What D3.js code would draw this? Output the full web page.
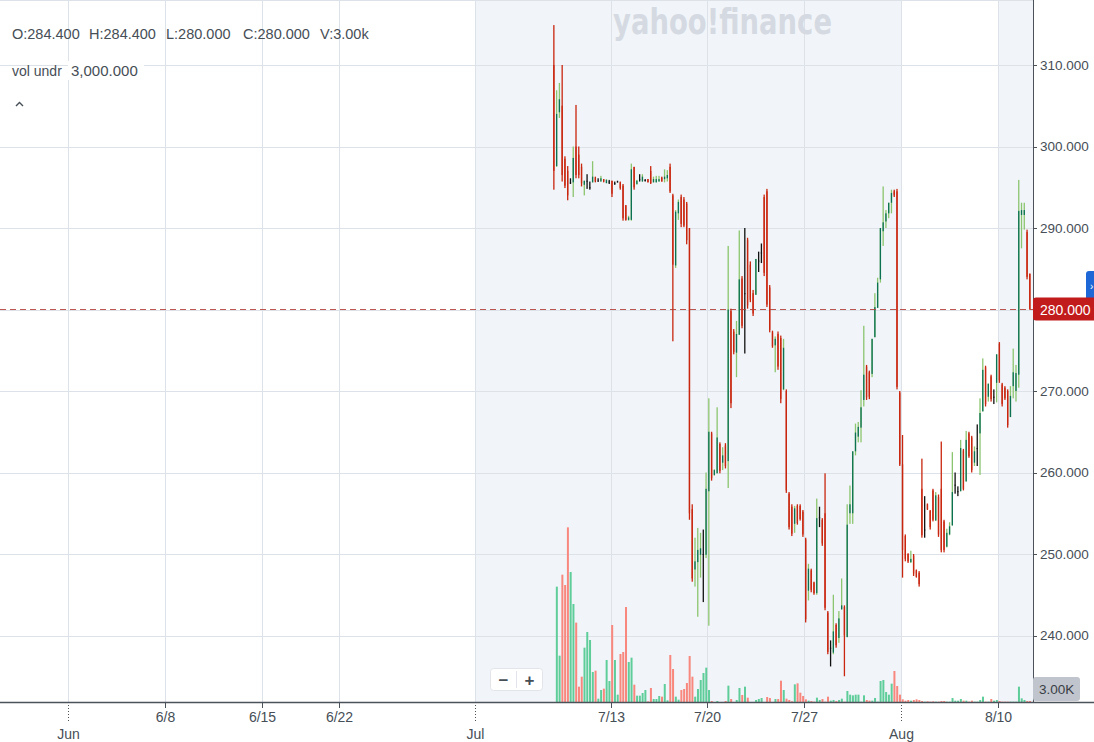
<!DOCTYPE html>
<html>
<head>
<meta charset="utf-8">
<title>candles</title>
<script src="https://cdn.jsdelivr.net/npm/d3@7/dist/d3.min.js"></script>
<style>
  body { margin: 0; background: #fff; }
  svg { display: block; font-family: "Liberation Sans", Arial, sans-serif; }
</style>
</head>
<body>
<svg width="1094" height="742"></svg>
<script>
// x axis: labels and their position in trading days (Jul 1 = 0)
var tickLabels = ["Jun", "6/8", "6/15", "6/22", "Jul", "7/13", "7/20", "7/27", "Aug", "8/10"];
var tickDays   = [-21, -16, -11, -7, 0, 7, 12, 17, 22, 27];
var monthTicks = ["Jun", "Jul", "Aug"];
var priceTicks = [240, 250, 260, 270, 280, 290, 300, 310];

// shaded periods (trading days)
var bandStart = [0, 27];
var bandEnd   = [22, 29];

// hourly bars, 7 per day, starting on trading day 4 (7/8)
var firstDay = 4, barsPerDay = 7;

var open = [310.0,297.6,304.2,305.0,298.5,297.0,295.6,295.6,300.0,299.0,297.5,295.3,295.8,295.0,295.6,296.2,295.8,295.7,296.0,295.5,
  295.7,295.8,295.5,295.7,295.6,295.2,292.8,291.0,291.0,297.5,295.4,296.0,295.7,295.9,296.0,297.0,295.6,295.6,295.7,296.2,
  296.0,296.1,297.5,294.0,285.4,291.8,293.8,293.5,293.0,290.0,255.5,248.1,249.0,249.9,250.0,249.9,257.7,264.8,259.7,259.9,
  263.5,261.2,263.3,261.4,279.8,277.3,274.7,276.9,283.8,282.0,288.5,285.5,282.0,281.8,286.0,287.0,293.8,294.5,282.7,277.2,
  275.6,277.0,276.5,270.2,270.0,257.4,255.8,253.7,255.9,255.9,255.2,251.8,245.5,248.0,246.5,245.2,254.5,254.2,255.0,242.8,
  238.5,237.9,241.3,239.7,243.2,243.5,239.8,255.0,255.0,262.6,264.4,265.5,268.9,273.0,272.3,272.1,276.6,280.2,283.7,289.6,
  290.8,291.8,293.1,294.5,294.5,269.8,261.0,252.2,250.0,249.0,249.8,248.0,247.7,258.0,253.0,256.1,255.3,257.8,254.1,257.0,
  258.0,254.0,250.9,252.4,253.5,258.5,257.7,257.7,262.7,258.9,264.8,264.3,261.2,263.0,264.8,267.5,272.9,269.3,271.8,269.3,
  271.0,275.8,270.8,270.4,270.0,266.8,270.6,270.0,272.0,291.6,291.6,289.5,284.4];
var high = [314.9,306.9,307.8,310.0,298.8,297.6,296.1,300.0,305.1,300.0,297.9,295.8,296.6,295.7,298.2,296.3,296.1,296.4,296.0,296.0,
  295.9,295.8,295.7,295.8,295.7,295.4,292.8,291.5,297.9,297.5,295.9,296.6,296.6,296.0,296.0,297.6,296.3,296.4,296.4,296.3,
  297.2,297.1,297.9,294.2,292.2,293.5,294.1,293.8,293.2,290.0,256.1,252.0,253.2,252.6,253.0,260.0,269.1,265.0,260.4,268.0,
  263.7,263.1,263.6,287.8,280.1,277.6,278.6,289.7,284.1,290.0,288.8,285.9,282.4,286.2,287.1,288.1,294.1,294.8,283.0,277.4,
  276.7,277.3,276.8,276.4,270.2,257.6,256.1,255.9,256.1,256.1,255.4,252.0,248.8,248.2,246.6,256.8,255.8,254.4,259.9,243.0,
  239.4,245.0,241.5,243.0,247.0,243.7,256.1,258.4,262.6,266.0,266.2,270.1,278.0,273.2,272.5,276.4,282.0,283.9,290.0,295.1,
  292.2,293.1,294.7,294.7,294.8,270.0,264.6,252.4,250.1,250.4,250.0,248.1,247.9,261.7,257.1,256.2,255.4,258.0,257.6,257.3,
  263.8,254.2,253.1,253.9,262.5,260.0,258.3,264.0,262.9,265.1,265.0,264.5,263.2,265.9,269.1,274.0,273.1,270.9,272.0,270.2,
  274.5,276.0,271.0,270.6,270.2,270.6,275.2,273.2,295.9,293.1,293.1,289.8,284.4];
var low = [294.7,297.5,303.5,295.7,294.9,293.4,295.4,293.8,296.1,296.1,295.1,294.0,294.8,294.7,295.6,295.6,295.7,295.7,295.6,295.5,
  295.4,293.8,295.3,295.6,294.7,290.9,290.9,290.9,290.9,294.7,295.3,295.7,295.7,295.7,295.6,295.4,295.6,295.6,295.7,295.7,
  295.6,295.7,294.3,276.1,285.1,291.0,290.1,290.1,288.0,254.2,246.6,246.0,242.3,247.1,244.1,249.5,241.2,259.0,259.6,259.9,
  259.9,260.3,260.5,258.1,267.9,274.5,271.7,276.9,277.7,274.6,280.1,280.9,279.2,281.8,284.6,285.7,284.1,280.3,277.2,275.3,
  272.3,272.6,268.5,270.1,257.5,253.0,252.2,252.6,253.6,254.1,252.1,241.6,244.3,245.3,245.0,245.0,253.3,251.0,243.1,237.7,
  236.2,237.7,238.5,239.1,243.2,235.0,239.8,253.7,253.7,262.1,263.7,263.7,268.1,268.9,269.0,271.7,276.6,280.2,283.3,287.8,
  290.0,291.2,291.8,293.8,270.2,260.8,247.1,249.1,248.9,248.9,247.3,247.1,246.0,252.0,252.0,255.4,253.0,254.0,254.1,252.1,
  250.2,250.2,250.8,252.3,253.5,257.4,257.1,257.7,257.8,258.9,261.8,260.0,260.8,260.8,259.7,267.5,268.1,268.7,268.7,268.4,
  268.6,271.0,268.1,268.9,265.5,266.8,269.1,268.7,270.4,287.5,289.8,283.7,280.0];
var close = [297.0,304.0,305.8,296.5,295.2,294.0,295.6,298.6,296.5,296.5,295.5,295.8,295.8,295.0,296.3,295.7,295.8,296.1,295.7,295.9,
  295.7,294.2,295.5,295.7,294.9,291.2,291.0,291.3,297.2,295.0,295.8,296.0,296.3,295.9,295.6,295.5,296.0,296.0,296.0,295.7,
  296.3,296.5,294.5,285.5,292.0,293.2,290.5,290.3,288.5,255.0,247.0,249.1,250.5,250.7,250.0,258.0,265.0,259.3,260.3,264.3,
  260.2,262.1,260.8,280.0,268.5,274.8,277.0,283.7,278.0,282.0,280.5,281.2,279.5,286.2,286.0,287.0,284.5,280.6,277.5,275.5,
  276.4,273.0,269.0,275.3,257.8,253.3,252.5,255.6,253.8,254.3,252.4,242.0,248.2,245.6,245.2,254.4,254.5,251.3,243.4,238.0,
  238.5,240.5,238.8,242.1,243.7,240.0,253.6,256.1,262.6,264.9,265.6,268.0,272.0,269.2,269.3,276.4,280.3,283.3,290.0,290.7,
  291.8,293.1,294.3,294.0,270.5,261.0,250.5,249.4,249.1,249.4,247.6,247.2,246.3,252.3,253.0,255.5,253.3,254.2,257.2,252.4,
  250.5,250.5,252.6,253.4,257.6,258.5,257.7,263.0,258.0,264.0,262.0,260.3,262.6,263.0,267.3,272.6,268.4,270.9,269.0,269.3,
  274.5,271.3,268.4,269.1,265.8,269.4,272.3,272.2,292.1,292.2,292.2,284.0,280.0];
// volume, thousands
var volume = [0,346,139,382,351,524,390,294,238,46,76,163,210,186,90,94,10,36,40,126,
  63,231,126,22,144,150,285,120,133,52,19,19,27,36,2,42,9,9,18,16,
  54,5,141,99,16,7,36,39,57,138,76,16,39,66,87,103,36,3,0,3,
  0,0,3,49,9,0,6,42,21,46,13,0,0,6,9,12,0,15,12,0,
  9,9,64,36,10,6,2,53,56,28,18,8,4,3,1,13,6,9,1,16,
  4,6,3,6,10,1,33,22,20,22,22,1,20,6,4,4,12,1,63,66,
  30,22,55,93,48,22,8,4,6,4,6,8,6,3,1,2,1,2,1,1,
  3,3,1,1,12,4,4,9,4,4,1,4,1,1,6,16,1,1,9,4,
  6,3,1,1,1,1,1,1,46,11,6,3,3];
var volLabel = "vol undr", volUnderlay = 3000;

var svg = d3.select("svg");
var W = +svg.attr("width"), H = +svg.attr("height");
var axisX = 1033, baseY = 702;
var ink = "#464e56", gridC = "#dde1e8";

var x = d3.scaleLinear().domain([0, 27]).range([475, 998]);
var y = d3.scaleLinear().domain([240, 310]).range([635.5, 65]);
var yVol = d3.scaleLinear().domain([0, 600]).range([baseY, baseY - 200]);
var fmt = d3.format(".3f");

function barX(i) { return x(firstDay + (i + 0.5) / barsPerDay); }

var bars = open.map(function(o, i) {
  return {i: i, o: o, h: high[i], l: low[i], c: close[i], v: volume[i]};
});

// shaded periods
svg.selectAll(".band").data(bandStart).enter().append("rect")
  .attr("x", function(d) { return x(d); })
  .attr("y", 0)
  .attr("width", function(d, i) { return Math.min(x(bandEnd[i]), axisX) - x(d); })
  .attr("height", baseY)
  .attr("fill", "#f1f5f9");

// grid
svg.append("line").attr("x1", 0).attr("x2", axisX).attr("y1", 0.5).attr("y2", 0.5)
  .attr("stroke", gridC);
svg.selectAll(".hg").data(priceTicks).enter().append("line")
  .attr("x1", 0).attr("x2", axisX)
  .attr("y1", function(d) { return Math.round(y(d)) + 0.5; })
  .attr("y2", function(d) { return Math.round(y(d)) + 0.5; })
  .attr("stroke", gridC);
svg.selectAll(".vg").data(tickDays).enter().append("line")
  .attr("x1", function(d) { return Math.round(x(d)) + 0.5; })
  .attr("x2", function(d) { return Math.round(x(d)) + 0.5; })
  .attr("y1", 0).attr("y2", baseY)
  .attr("stroke", gridC);

// watermark
svg.append("text").attr("x", 613).attr("y", 34)
  .attr("font-size", 35).attr("font-weight", 900)
  .attr("font-family", "'DejaVu Sans', sans-serif")
  .attr("textLength", 219).attr("lengthAdjust", "spacingAndGlyphs")
  .attr("fill", "#d5dae2")
  .text("yahoo!finance");

// volume
svg.selectAll(".vol").data(bars).enter().append("rect")
  .attr("x", function(d) { return barX(d.i) - 0.8; })
  .attr("y", function(d) { return yVol(d.v); })
  .attr("width", 2)
  .attr("height", function(d) { return baseY - yVol(d.v); })
  .attr("fill", function(d) { return d.c < d.o ? "#f8877e" : "#5fcd9a"; });

// candles
function wickColor(d) { return d.c > d.o ? "#8cc56f" : d.c < d.o ? "#c9260f" : "#111"; }
function bodyColor(d) { return d.c > d.o ? "#0b7152" : d.c < d.o ? "#c9260f" : "#111"; }

var g = svg.selectAll(".candle").data(bars).enter().append("g");
g.append("rect")
  .attr("x", function(d) { return barX(d.i) - 0.65; })
  .attr("y", function(d) { return y(d.h); })
  .attr("width", 1.3)
  .attr("height", function(d) { return Math.max(1, y(d.l) - y(d.h)); })
  .attr("fill", wickColor);
g.append("rect")
  .attr("x", function(d) { return barX(d.i) - 0.65; })
  .attr("y", function(d) { return y(Math.max(d.o, d.c)); })
  .attr("width", 1.3)
  .attr("height", function(d) { return Math.max(1, Math.abs(y(d.o) - y(d.c))); })
  .attr("fill", bodyColor);

// last price line
var last = bars[bars.length - 1];
svg.append("line").attr("x1", 0).attr("x2", axisX)
  .attr("y1", y(last.c)).attr("y2", y(last.c))
  .attr("stroke", "#b03a32").attr("stroke-opacity", 0.85)
  .attr("stroke-dasharray", "6,4");

// right axis
svg.append("line").attr("x1", axisX + 0.5).attr("x2", axisX + 0.5)
  .attr("y1", 0).attr("y2", baseY).attr("stroke", "#4b5259");
svg.selectAll(".yt").data(priceTicks).enter().append("line")
  .attr("x1", axisX).attr("x2", axisX + 4)
  .attr("y1", function(d) { return Math.round(y(d)) + 0.5; })
  .attr("y2", function(d) { return Math.round(y(d)) + 0.5; })
  .attr("stroke", "#4b5259");
svg.selectAll(".yl").data(priceTicks).enter().append("text")
  .attr("x", axisX + 7).attr("y", function(d) { return y(d); })
  .attr("dy", "0.35em").attr("font-size", 13.5).attr("fill", ink)
  .text(function(d) { return fmt(d); });

// bottom axis
svg.append("line").attr("x1", 0).attr("x2", W)
  .attr("y1", baseY + 0.5).attr("y2", baseY + 0.5)
  .attr("stroke", "#4b5259").attr("stroke-width", 1.3);
tickLabels.forEach(function(lab, i) {
  var tx = Math.round(x(tickDays[i])) + 0.5;
  var isMonth = monthTicks.indexOf(lab) >= 0;
  svg.append("line").attr("x1", tx).attr("x2", tx)
    .attr("y1", baseY).attr("y2", isMonth ? baseY + 19 : baseY + 6)
    .attr("stroke", "#4b5259")
    .attr("stroke-dasharray", isMonth ? "1,2" : null);
  svg.append("text").attr("x", tx).attr("y", isMonth ? 739 : 722)
    .attr("text-anchor", "middle").attr("font-size", 14).attr("fill", ink)
    .text(lab);
});

// price label + side tab
svg.append("rect").attr("x", 1086).attr("y", 271).attr("width", 12).attr("height", 31)
  .attr("rx", 3).attr("fill", "#1d68d6");
svg.append("text").attr("x", 1090).attr("y", 290).attr("font-size", 10)
  .attr("fill", "#fff").text("›");
svg.append("rect").attr("x", axisX).attr("y", y(last.c) - 12).attr("width", W - axisX + 4)
  .attr("height", 23).attr("rx", 3).attr("fill", "#c21b1b");
svg.append("text").attr("x", axisX + 7).attr("y", y(last.c)).attr("dy", "0.36em")
  .attr("font-size", 14).attr("fill", "#fff").text(fmt(last.c));

// volume label
svg.append("rect").attr("x", axisX).attr("y", 677).attr("width", 47).attr("height", 24)
  .attr("rx", 3).attr("fill", "#c0c4cc");
svg.append("text").attr("x", axisX + 6).attr("y", 689).attr("dy", "0.36em")
  .attr("font-size", 13.5).attr("fill", "#3a3f46").text(last.v.toFixed(2) + "K");

// zoom buttons
var zb = svg.append("g");
zb.append("rect").attr("x", 490.5).attr("y", 668.5).attr("width", 52).attr("height", 22)
  .attr("rx", 3).attr("fill", "#fff").attr("stroke", "#e1e4e9");
zb.append("line").attr("x1", 516.5).attr("x2", 516.5).attr("y1", 671).attr("y2", 688)
  .attr("stroke", "#e1e4e9");
zb.append("text").attr("x", 503.5).attr("y", 680).attr("dy", "0.36em").attr("text-anchor", "middle")
  .attr("font-size", 17).attr("font-weight", "bold").attr("fill", "#464e56").text("−");
zb.append("text").attr("x", 529.5).attr("y", 680).attr("dy", "0.36em").attr("text-anchor", "middle")
  .attr("font-size", 17).attr("font-weight", "bold").attr("fill", "#464e56").text("+");

// legend
var legendItems = ["O:" + fmt(last.o), "H:" + fmt(last.h), "L:" + fmt(last.l),
  "C:" + fmt(last.c), "V:" + last.v.toFixed(2) + "k"];
svg.selectAll(".leg").data(legendItems).enter().append("text")
  .attr("x", function(d, i) { return 12 + i * 77; }).attr("y", 39)
  .attr("font-size", 14.5).attr("fill", ink)
  .text(function(d) { return d; });
svg.append("text").attr("x", 12).attr("y", 76).attr("font-size", 14).attr("fill", ink)
  .text(volLabel);
svg.append("rect").attr("x", 68).attr("y", 61).attr("width", 76).attr("height", 19).attr("fill", "#fff");
svg.append("text").attr("x", 71).attr("y", 76).attr("font-size", 15).attr("fill", ink)
  .text(d3.format(",.3f")(volUnderlay));
svg.append("path").attr("d", "M16,106 L19.5,102.5 L23,106")
  .attr("fill", "none").attr("stroke", ink).attr("stroke-width", 1.4);
</script>
</body>
</html>
